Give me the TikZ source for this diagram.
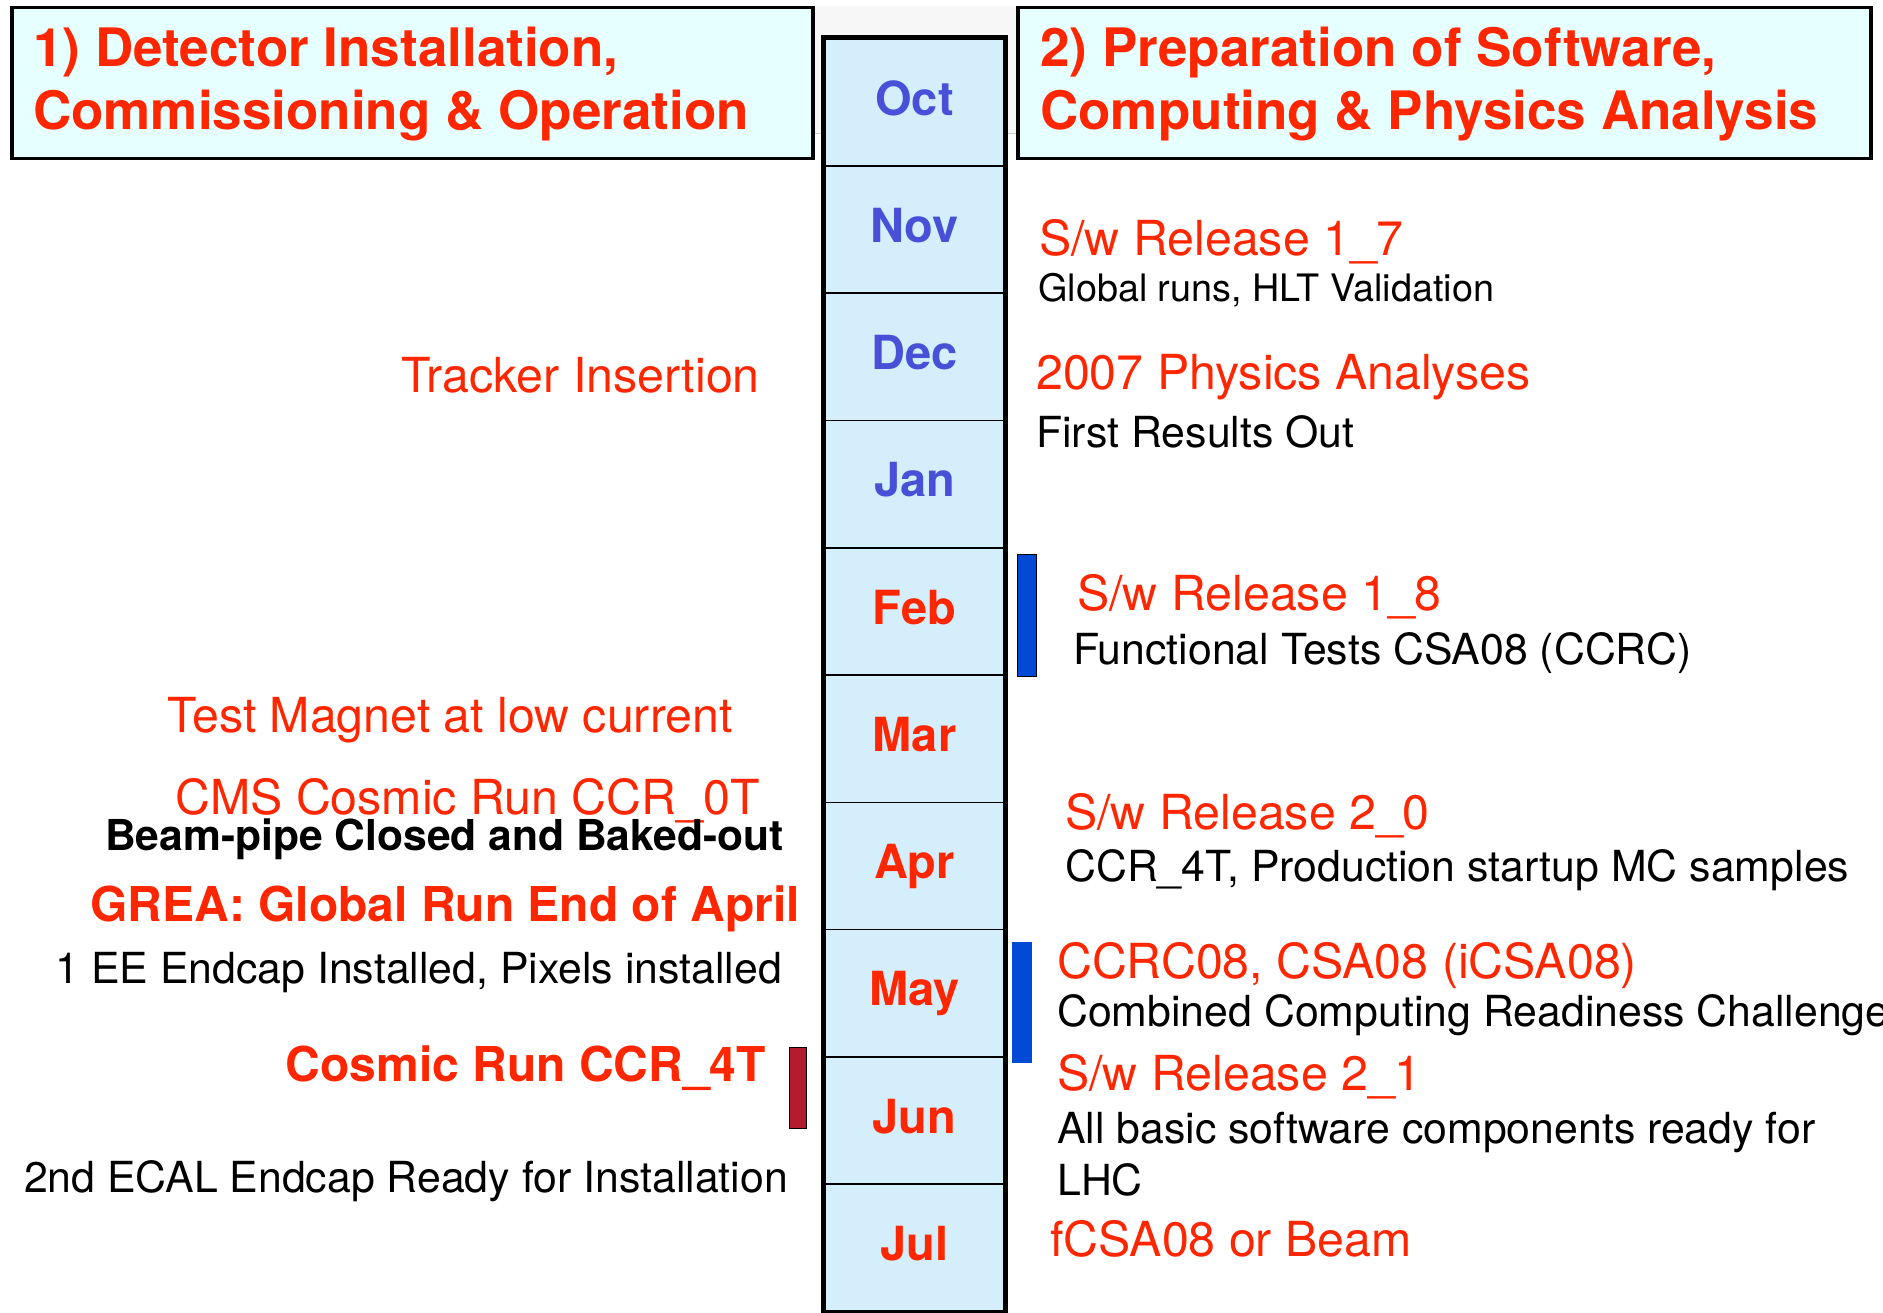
\documentclass[tikz,border=0pt]{standalone}
\usepackage{fontspec}
\setmainfont{TeX Gyre Heros}
\definecolor{hred}{RGB}{255,38,0}
\definecolor{mblue}{RGB}{72,80,216}
\definecolor{cellfill}{RGB}{212,238,252}
\definecolor{hdrfill}{RGB}{230,255,255}
\definecolor{barblue}{RGB}{0,74,214}
\definecolor{barred}{RGB}{180,28,46}
\begin{document}
\begin{tikzpicture}[x=1pt,y=-1pt,
  hdrbox/.style={draw=black, line width=3.5pt, fill=hdrfill, inner sep=0, anchor=north west},
  hdrtext/.style={font=\fontsize{53}{63}\selectfont\bfseries, text=hred, anchor=base west, inner sep=0},
  evt/.style={font=\fontsize{48.3}{56}\selectfont, text=hred, inner sep=0},
  evtb/.style={font=\fontsize{48}{56}\selectfont\bfseries, text=hred, inner sep=0},
  note/.style={font=\fontsize{42.8}{50}\selectfont, text=black, inner sep=0},
  noteb/.style={font=\fontsize{42.6}{50}\selectfont\bfseries, text=black, inner sep=0},
  monthcell/.style={draw=black, line width=1.6pt, fill=cellfill, minimum width=180, minimum height=127.25, inner sep=0, anchor=north},
  monthtext/.style={font=\fontsize{47}{56}\selectfont\bfseries, inner sep=0, anchor=base},
  bar/.style={inner sep=0, anchor=north west}
]
\useasboundingbox (0,0) rectangle (1883,1313);

% light background strip between the headers
\fill[gray!6] (811,6) rectangle (1016,133);
\draw[gray!40, line width=0.8pt] (811,133) -- (1016,133);

% header boxes
\node[hdrbox, minimum width=801, minimum height=151] (h1box) at (10,6) {};
\node[hdrtext] (h1a) at (33,67) {1) Detector Installation,};
\node[hdrtext] (h1b) at (33,130) {Commissioning \& Operation};
\node[hdrbox, minimum width=853, minimum height=151] (h2box) at (1016,6) {};
\node[hdrtext] (h2a) at (1040,67) {2) Preparation of Software,};
\node[hdrtext] (h2b) at (1040,130) {Computing \& Physics Analysis};

% month column
\foreach \i/\m/\c in {0/Oct/mblue,1/Nov/mblue,2/Dec/mblue,3/Jan/mblue,4/Feb/hred,5/Mar/hred,6/Apr/hred,7/May/hred,8/Jun/hred,9/Jul/hred}{
  \node[monthcell] (cell\i) at (914.5,38+127.25*\i) {};
  \node[monthtext, text=\c] (lab\i) at (914.5,38+127.25*\i+63.6+13.5) {\m};
}
\draw[line width=5pt] (cell0.north west) rectangle (cell9.south east);

% left column events
\node[evt, anchor=base east] (tracker) at (760,393) {Tracker Insertion};
\node[evt, anchor=base east] (magnet) at (733,732) {Test Magnet at low current};
\node[evt, anchor=base east] (ccr0t) at (760,814) {CMS Cosmic Run CCR\_0T};
\node[noteb, anchor=base east] (beampipe) at (784,850) {Beam-pipe Closed and Baked-out};
\node[evtb, anchor=base east] (grea) at (800,921) {GREA: Global Run End of April};
\node[note, anchor=base east] (ee) at (782,983) {1 EE Endcap Installed, Pixels installed};
\node[evtb, anchor=base east] (ccr4t) at (766,1081) {Cosmic Run CCR\_4T};
\node[note, anchor=base east] (ecal) at (788,1192) {2nd ECAL Endcap Ready for Installation};
\node[bar, draw=black, line width=0.8pt, fill=barred, minimum width=17, minimum height=81] (redbar) at (789,1047) {};

% right column events
\node[evt, anchor=base west] (r17) at (1039,256) {S/w Release 1\_7};
\node[note, anchor=base west, font=\fontsize{37.8}{44}\selectfont] (glob) at (1038,302) {Global runs, HLT Validation};
\node[evt, anchor=base west] (phys) at (1036,390) {2007 Physics Analyses};
\node[note, anchor=base west] (first) at (1036,448) {First Results Out};
\node[bar, draw=black, line width=0.8pt, fill=barblue, minimum width=19, minimum height=122] (bluebar1) at (1017,554) {};
\node[evt, anchor=base west] (r18) at (1077,610) {S/w Release 1\_8};
\node[note, anchor=base west] (func) at (1073,664) {Functional Tests CSA08 (CCRC)};
\node[evt, anchor=base west] (r20) at (1065,829) {S/w Release 2\_0};
\node[note, anchor=base west] (prod) at (1065,881) {CCR\_4T, Production startup MC samples};
\node[bar, fill=barblue, minimum width=20, minimum height=121] (bluebar2) at (1012,942) {};
\node[evt, anchor=base west] (ccrc) at (1057,978) {CCRC08, CSA08 (iCSA08)};
\node[note, anchor=base west] (comb) at (1057,1026) {Combined Computing Readiness Challenge};
\node[evt, anchor=base west] (r21) at (1057,1090) {S/w Release 2\_1};
\node[note, anchor=base west] (allb) at (1057,1143) {All basic software components ready for};
\node[note, anchor=base west] (lhc) at (1057,1195) {LHC};
\node[evt, anchor=base west] (fcsa) at (1050,1256) {fCSA08 or Beam};
\end{tikzpicture}
\end{document}
